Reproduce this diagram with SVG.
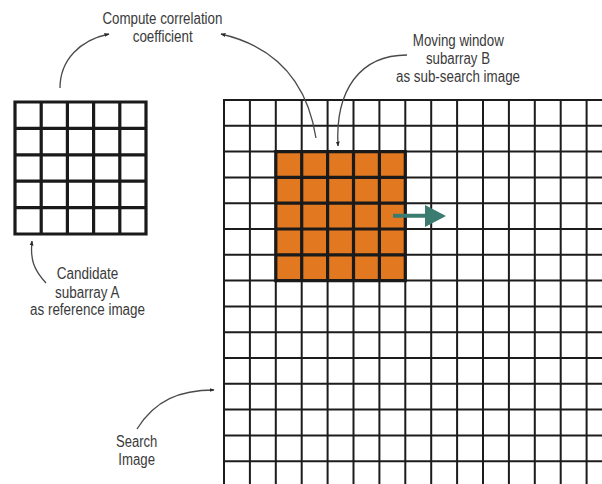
<svg xmlns="http://www.w3.org/2000/svg" width="602" height="484" viewBox="0 0 602 484">
<defs>
<style>
.lbl{font-family:"Liberation Sans",Arial,sans-serif;font-size:16px;fill:#3a3a3a;text-anchor:middle}
.grid{fill:none;stroke:#1c1c1c;stroke-width:2}
.thick{fill:none;stroke:#1a1a1a;stroke-width:3.2}
.conn{fill:none;stroke:#4a4a4a;stroke-width:1.3}
</style>
<marker id="ah" viewBox="0 0 10 10" refX="9" refY="5" markerWidth="5" markerHeight="5" orient="auto" markerUnits="userSpaceOnUse">
<path d="M0,1 L10,5 L0,9 Z" fill="#2a2a2a"/>
</marker>
</defs>
<rect width="602" height="484" fill="#ffffff"/>

<g id="searchImage">
<path class="grid" d="M224,100V484 M249.9,100V484 M275.8,100V484 M301.7,100V484 M327.6,100V484 M353.5,100V484 M379.4,100V484 M405.3,100V484 M431.2,100V484 M457.1,100V484 M483,100V484 M508.9,100V484 M534.8,100V484 M560.7,100V484 M586.6,100V484
M223,100H602 M223,125.8H602 M223,151.6H602 M223,177.4H602 M223,203.2H602 M223,229H602 M223,254.8H602 M223,280.6H602 M223,306.4H602 M223,332.2H602 M223,358H602 M223,383.8H602 M223,409.6H602 M223,435.4H602 M223,461.2H602"/>
</g>

<g id="subarrayB">
<rect x="275.8" y="151.6" width="129.5" height="129" fill="#e2781f"/>
<path class="thick" d="M275.8,151.6H405.3V280.6H275.8Z M301.7,151.6V280.6 M327.6,151.6V280.6 M353.5,151.6V280.6 M379.4,151.6V280.6 M275.8,177.4H405.3 M275.8,203.2H405.3 M275.8,229H405.3 M275.8,254.8H405.3"/>
</g>

<g id="moveArrow">
<path d="M393,215.7H426" stroke="#3b7b70" stroke-width="4" fill="none"/>
<path d="M425,205 L446,216 L425,227 Z" fill="#3b7b70"/>
</g>

<g id="subarrayA">
<rect x="15" y="102" width="131" height="132" fill="#ffffff"/>
<path class="thick" d="M15,102H146V234H15Z M41.2,102V234 M67.4,102V234 M93.6,102V234 M119.8,102V234 M15,128.4H146 M15,154.8H146 M15,181.2H146 M15,207.6H146"/>
</g>

<g id="connectors">
<path class="conn" marker-end="url(#ah)" d="M60,88 C60,60 80,40 109,34"/>
<path class="conn" marker-end="url(#ah)" d="M316,138 C310,100 290,50 221,34"/>
<path class="conn" marker-end="url(#ah)" d="M407,55 C360,55 335,90 338,146"/>
<path class="conn" marker-end="url(#ah)" d="M46,283 C34,270 30,260 32,241"/>
<path class="conn" marker-end="url(#ah)" d="M137,429 C155,400 180,390 214,390"/>
</g>

<g id="labelCompute">
<text class="lbl" x="162.4" y="24" textLength="120" lengthAdjust="spacingAndGlyphs">Compute correlation</text>
<text class="lbl" x="162.7" y="41.7" textLength="60" lengthAdjust="spacingAndGlyphs">coefficient</text>
</g>
<g id="labelMoving">
<text class="lbl" x="458.3" y="46" textLength="91" lengthAdjust="spacingAndGlyphs">Moving window</text>
<text class="lbl" x="458" y="63.5" textLength="64" lengthAdjust="spacingAndGlyphs">subarray B</text>
<text class="lbl" x="458" y="81.5" textLength="124" lengthAdjust="spacingAndGlyphs">as sub-search image</text>
</g>
<g id="labelCandidate">
<text class="lbl" x="87.5" y="279.3" textLength="61.6" lengthAdjust="spacingAndGlyphs">Candidate</text>
<text class="lbl" x="87.2" y="297.5" textLength="64.3" lengthAdjust="spacingAndGlyphs">subarray A</text>
<text class="lbl" x="87.5" y="315" textLength="115" lengthAdjust="spacingAndGlyphs">as reference image</text>
</g>
<g id="labelSearch">
<text class="lbl" x="136.7" y="447" textLength="41.3" lengthAdjust="spacingAndGlyphs">Search</text>
<text class="lbl" x="136.7" y="465" textLength="36.7" lengthAdjust="spacingAndGlyphs">Image</text>
</g>
</svg>
